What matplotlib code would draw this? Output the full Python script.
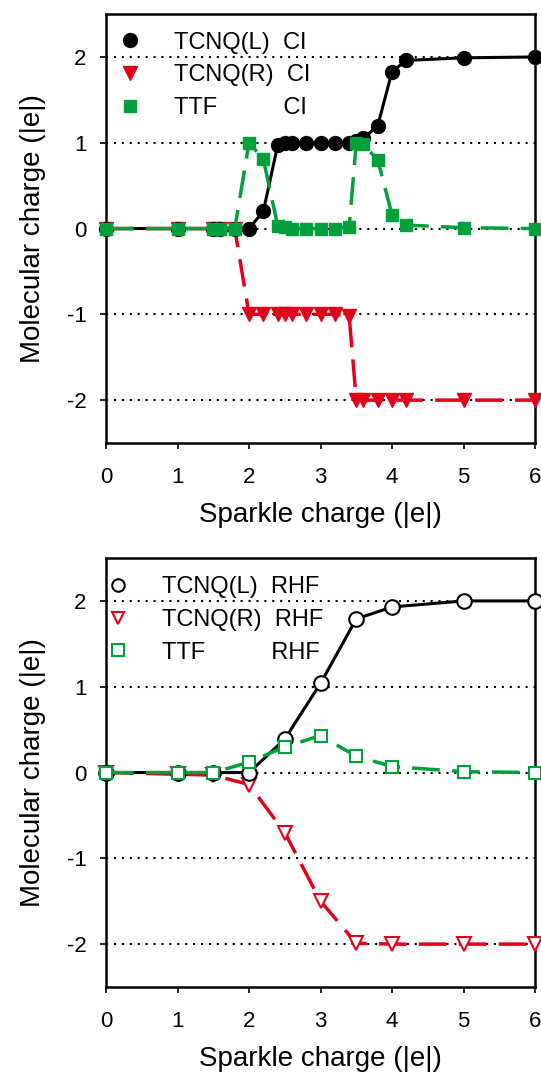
import matplotlib.pyplot as plt
from matplotlib.lines import Line2D

plt.rcParams['font.family'] = ['Liberation Sans', 'DejaVu Sans']
plt.rcParams['axes.unicode_minus'] = False

RED = '#e2001a'
GREEN = '#00a03c'

# CI calculation (top panel)
x_ci = [0, 1, 1.5, 1.6, 1.8, 2.0, 2.2, 2.4, 2.5, 2.6, 2.8, 3.0, 3.2, 3.4,
        3.5, 3.6, 3.8, 4.0, 4.2, 5, 6]
tcnq_l_ci = [0, 0, 0, 0, 0, 0.0, 0.2, 0.97, 1.0, 1.0, 1.0, 1.0, 1.0, 1.0,
             1.02, 1.05, 1.2, 1.83, 1.96, 1.99, 2.0]
tcnq_r_ci = [0, 0, 0, 0, 0, -1.0, -1.0, -1.0, -1.0, -1.0, -1.0, -1.0, -1.0, -1.02,
             -2.0, -2.0, -2.0, -2.0, -2.0, -2.0, -2.0]
ttf_ci = [0, 0, 0, 0, 0, 1.0, 0.81, 0.035, 0.02, 0.0, 0.0, 0.0, 0.0, 0.02,
          1.0, 0.98, 0.8, 0.16, 0.04, 0.01, 0.0]

# RHF calculation (bottom panel)
x_rhf = [0, 1, 1.5, 2.0, 2.5, 3.0, 3.5, 4.0, 5, 6]
tcnq_l_rhf = [0, 0, 0, 0.0, 0.39, 1.04, 1.79, 1.93, 2.0, 2.0]
tcnq_r_rhf = [0, -0.02, -0.03, -0.14, -0.70, -1.50, -1.99, -2.0, -2.0, -2.0]
ttf_rhf = [0, 0, 0, 0.12, 0.30, 0.43, 0.19, 0.07, 0.01, 0.0]

grid_levels = [2, 1, 0, -1, -2]
xticks = [0, 1, 2, 3, 4, 5, 6]
yticks = [-2, -1, 0, 1, 2]

fig = plt.figure(figsize=(5.41, 10.74), dpi=100)
ax1 = fig.add_axes([0.196, 0.5875, 0.793, 0.3994])
ax2 = fig.add_axes([0.196, 0.081, 0.793, 0.3994])


def setup(ax):
    for lev in grid_levels:
        ax.plot([0, 6], [lev, lev], color='black', lw=1.5,
                linestyle=(0, (1, 2.8)), zorder=1)
    ax.set_xlim(0, 6)
    ax.set_ylim(-2.5, 2.5)
    ax.set_xticks(xticks)
    ax.set_yticks(yticks)
    ax.tick_params(direction='out', length=4, width=1.2, labelsize=16)
    ax.tick_params(axis='x', pad=13)
    ax.tick_params(axis='y', pad=10)
    for sp in ax.spines.values():
        sp.set_linewidth(1.8)
    ax.set_xlabel('Sparkle charge (|e|)', fontsize=20, labelpad=10)
    ax.set_ylabel('Molecular charge (|e|)', fontsize=20, labelpad=15)


def add_legend(ax, handles, labels, top):
    ax.legend(handles, labels, loc='upper left', bbox_to_anchor=top,
              frameon=False, fontsize=17, handlelength=1.0,
              handletextpad=1.36, labelspacing=0.45, borderpad=0,
              borderaxespad=0)


setup(ax1)
setup(ax2)

# top panel: CI
ax1.plot(x_ci, tcnq_l_ci, color='black', lw=2.2, marker='o', ms=10,
         mfc='black', mec='black', zorder=4, clip_on=False)
ax1.plot(x_ci, tcnq_r_ci, color=RED, lw=2.5, dashes=(8, 3.5), marker='v', ms=10,
         mfc=RED, mec=RED, zorder=3, clip_on=False)
ax1.plot(x_ci, ttf_ci, color=GREEN, lw=2.5, dashes=(8, 3.5), marker='s', ms=8.5,
         mfc=GREEN, mec=GREEN, zorder=5, clip_on=False)

h1 = [Line2D([], [], ls='none', marker='o', ms=10, color='black'),
      Line2D([], [], ls='none', marker='v', ms=10, color=RED),
      Line2D([], [], ls='none', marker='s', ms=8, color=GREEN)]
add_legend(ax1, h1, ['TCNQ(L)  CI', 'TCNQ(R)  CI', 'TTF          CI'],
           (0.028, 0.959))

# bottom panel: RHF
ax2.plot(x_rhf, tcnq_l_rhf, color='black', lw=2.2, marker='o', ms=10.5,
         mfc='white', mec='black', mew=1.5, zorder=4, clip_on=False)
ax2.plot(x_rhf, tcnq_r_rhf, color=RED, lw=2.5, dashes=(8, 3.5), marker='v', ms=10.5,
         mfc='white', mec=RED, mew=1.5, zorder=3, clip_on=False)
ax2.plot(x_rhf, ttf_rhf, color=GREEN, lw=2.5, dashes=(8, 3.5), marker='s', ms=9,
         mfc='white', mec=GREEN, mew=1.5, zorder=5, clip_on=False)

h2 = [Line2D([], [], ls='none', marker='o', ms=9, mfc='white', mec='black', mew=1.5),
      Line2D([], [], ls='none', marker='v', ms=9, mfc='white', mec=RED, mew=1.5),
      Line2D([], [], ls='none', marker='s', ms=8, mfc='white', mec=GREEN, mew=1.5)]
add_legend(ax2, h2, ['TCNQ(L)  RHF', 'TCNQ(R)  RHF', 'TTF          RHF'],
           (0.0, 0.957))

fig.savefig('out.png', dpi=100)
